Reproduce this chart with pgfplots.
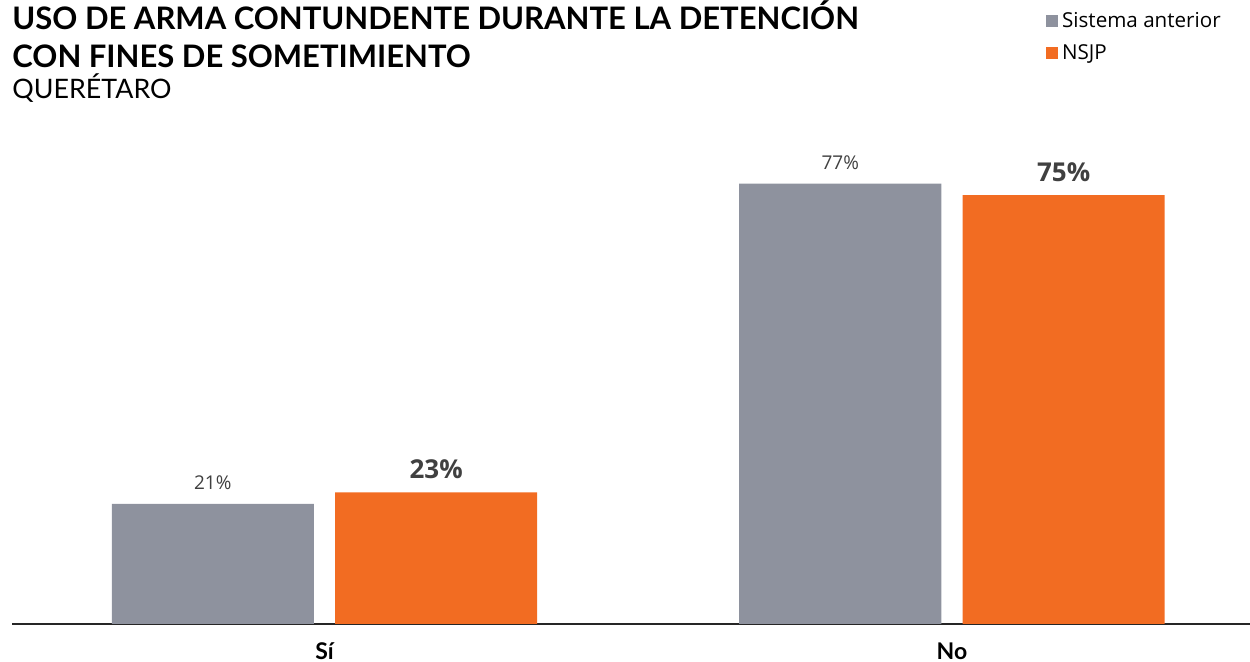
\documentclass[border=0pt]{standalone}
\usepackage{fontspec}
\setmainfont{Open Sans}
\newfontfamily\lato{Lato}
\usepackage{pgfplots}
\pgfplotsset{compat=1.18}

\definecolor{grisbar}{HTML}{8E929E}
\definecolor{naranja}{HTML}{F26C22}
\definecolor{etiq}{HTML}{404040}

\begin{document}
\begin{tikzpicture}
\useasboundingbox (0,0) rectangle (625pt,331pt);

% titles
\node[anchor=base west, inner sep=0pt, font=\lato\bfseries\fontsize{15.5}{18}\selectfont] at (6pt,316pt) {USO DE ARMA CONTUNDENTE DURANTE LA DETENCIÓN};
\node[anchor=base west, inner sep=0pt, font=\lato\bfseries\fontsize{15.5}{18}\selectfont] at (6pt,297pt) {CON FINES DE SOMETIMIENTO};
\node[anchor=base west, inner sep=0pt, font=\lato\fontsize{13.4}{15}\selectfont] at (6pt,281.5pt) {QUERÉTARO};

\begin{axis}[
    at={(6pt,19pt)}, anchor=south west,
    scale only axis, width=619pt, height=247pt,
    xmin=-0.498, xmax=1.475, ymin=0, ymax=86.4,
    ybar, bar width=0.322,
    axis x line=bottom, axis y line=none,
    axis line style={draw=black!85, line width=1pt, -},
    xtick={0,1}, xticklabels={Sí,No},
    major tick length=0pt,
    xticklabel style={anchor=base, yshift=-18pt, font=\lato\bfseries\fontsize{11.5}{13}\selectfont, text=black},
    clip=false,
    /pgf/number format/assume math mode=true,
    nodes near coords={\pgfmathprintnumber{\pgfplotspointmeta}\%},
    legend style={at={(0.835,1.247)}, anchor=north west, draw=none, fill=none,
        font=\fontsize{10.3}{12}\selectfont, row sep=3pt, inner sep=0pt,
        cells={anchor=west}},
    legend cell align=left,
    legend image code/.code={\fill[#1] (0pt,-3pt) rectangle (6pt,3pt);},
]
\addplot[fill=grisbar, draw=none, bar shift=-0.178,
    every node near coord/.append style={anchor=base, inner sep=0pt, yshift=7pt,
        font=\fontsize{9.5}{11}\selectfont, text=etiq}]
    coordinates {(0,21) (1,77)};
\addlegendentry{Sistema anterior}
\addplot[fill=naranja, draw=none, bar shift=0.178,
    every node near coord/.append style={anchor=base, inner sep=0pt, yshift=7pt,
        font=\bfseries\fontsize{13}{15}\selectfont, text=etiq}]
    coordinates {(0,23) (1,75)};
\addlegendentry{NSJP}
\end{axis}
\end{tikzpicture}
\end{document}
